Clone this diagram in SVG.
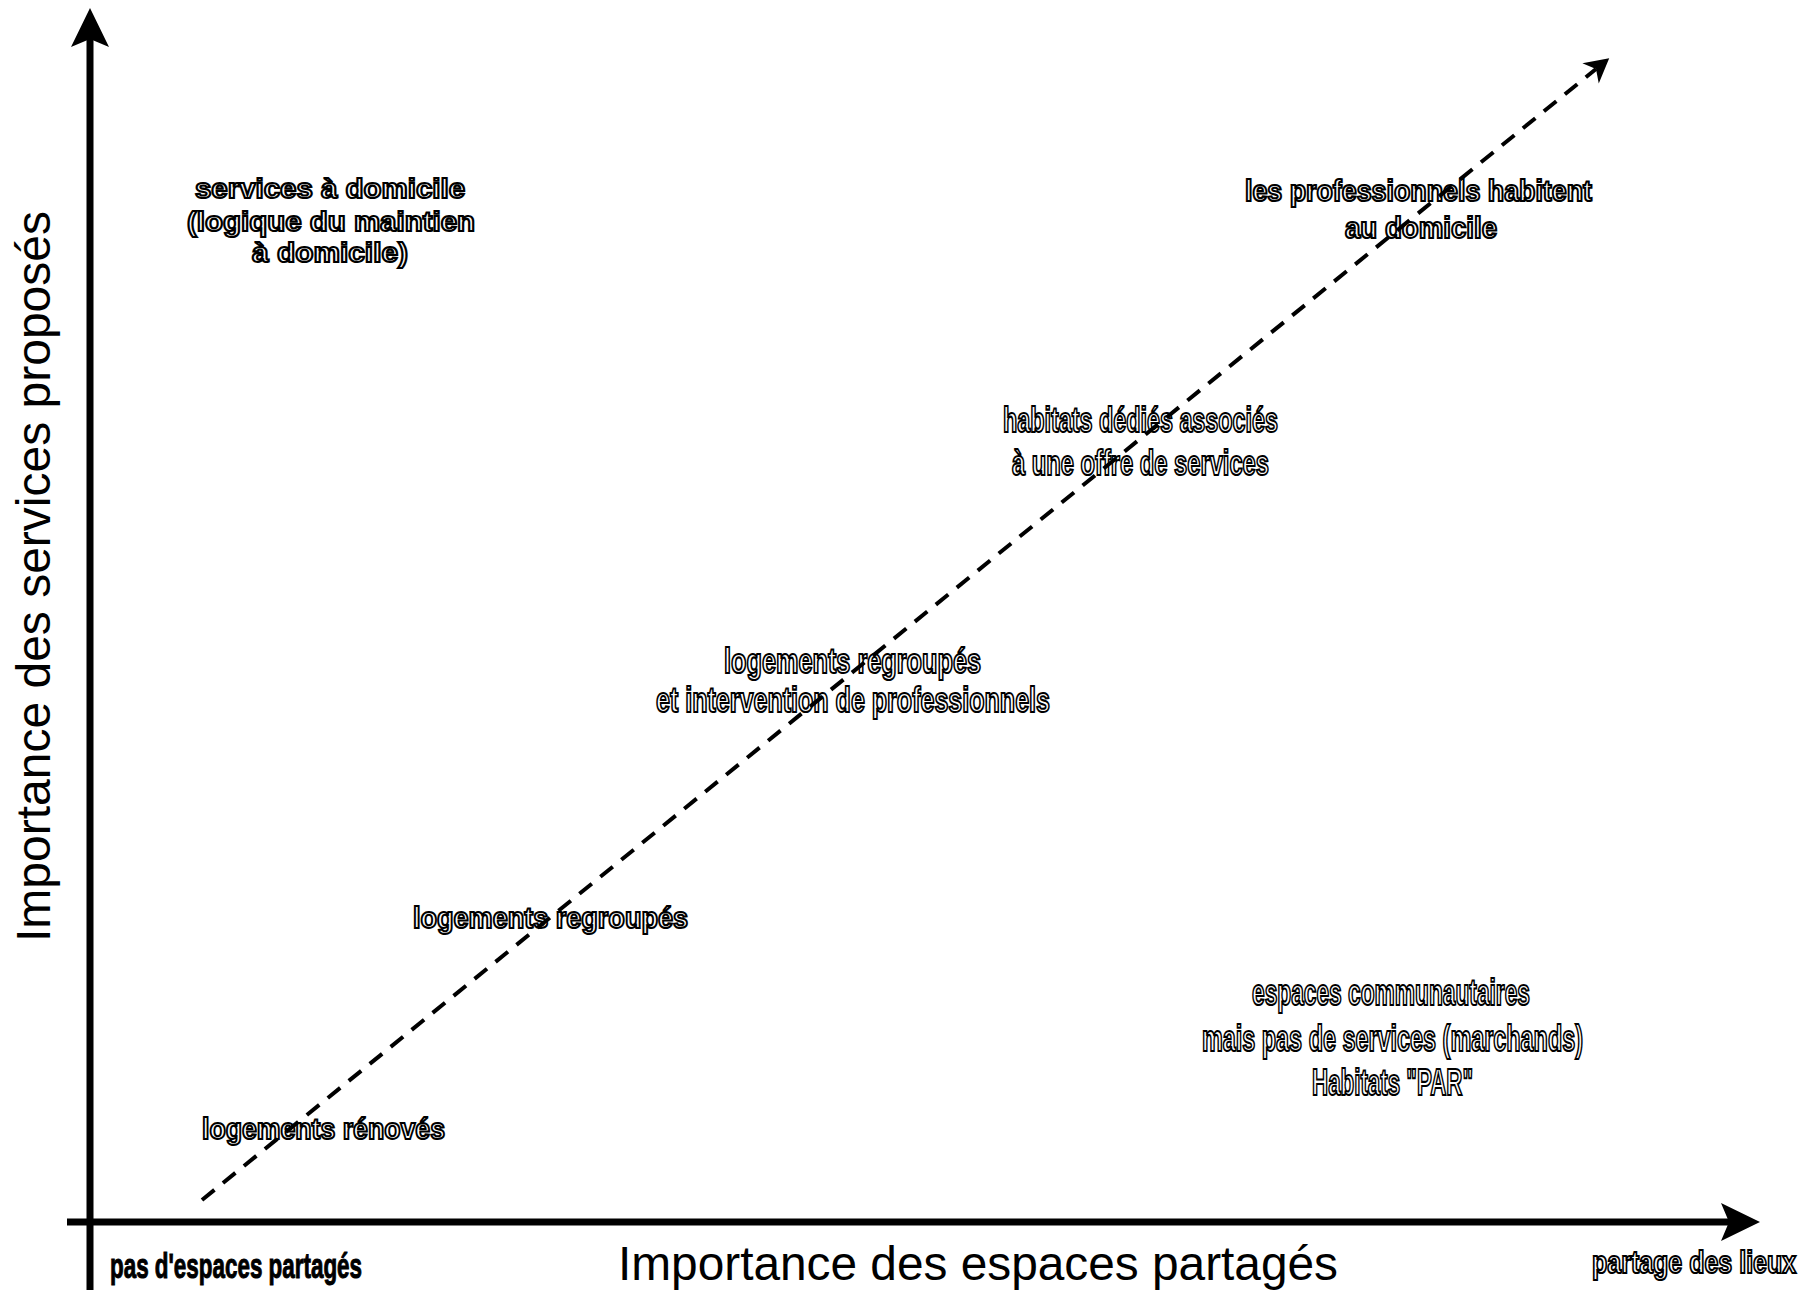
<svg xmlns="http://www.w3.org/2000/svg" width="1808" height="1290" viewBox="0 0 1808 1290">
<style>
  .ol { font-family: "Liberation Sans", Arial, sans-serif; font-weight: bold; fill: #fff; stroke: #000; stroke-width: 2.1; }
  .solid { font-family: "Liberation Sans", Arial, sans-serif; font-weight: bold; fill: #000; stroke: #000; stroke-width: 1; }
  .axis-title { font-family: "Liberation Sans", Arial, sans-serif; fill: #000; font-size: 48px; }
  .axis { stroke: #000; stroke-width: 7; fill: none; }
  .diag { stroke: #000; stroke-width: 4; fill: none; stroke-dasharray: 16 11; }
</style>
<defs>
  <marker id="axisHead" markerUnits="userSpaceOnUse" viewBox="-40 -20 41 40" markerWidth="41" markerHeight="40" refX="-31" refY="0" orient="auto">
    <path d="M0,0 L-39,-19 L-31,0 L-39,19 Z" fill="#000"/>
  </marker>
  <marker id="diagHead" markerUnits="userSpaceOnUse" viewBox="-25 -14 26 28" markerWidth="26" markerHeight="28" refX="-17" refY="0" orient="auto">
    <path d="M0,0 L-24,-13 L-17,0 L-24,13 Z" fill="#000"/>
  </marker>
</defs>
<rect width="1808" height="1290" fill="#fff"/>

<g id="node-services-domicile">
  <text class="ol" font-size="28" x="195" y="198" textLength="270" lengthAdjust="spacingAndGlyphs">services à domicile</text>
  <text class="ol" font-size="28" x="187" y="231" textLength="288" lengthAdjust="spacingAndGlyphs">(logique du maintien</text>
  <text class="ol" font-size="28" x="252" y="262" textLength="156" lengthAdjust="spacingAndGlyphs">à domicile)</text>
</g>
<g id="node-professionnels-habitent">
  <text class="ol" font-size="29" x="1245" y="201" textLength="347" lengthAdjust="spacingAndGlyphs">les professionnels habitent</text>
  <text class="ol" font-size="29" x="1345" y="238" textLength="152" lengthAdjust="spacingAndGlyphs">au domicile</text>
</g>
<g id="node-habitats-dedies">
  <text class="ol" font-size="35" x="1003" y="432" textLength="275" lengthAdjust="spacingAndGlyphs">habitats dédiés associés</text>
  <text class="ol" font-size="35" x="1012" y="475" textLength="257" lengthAdjust="spacingAndGlyphs">à une offre de services</text>
</g>
<g id="node-logements-intervention">
  <text class="ol" font-size="35" x="724" y="673" textLength="257" lengthAdjust="spacingAndGlyphs">logements regroupés</text>
  <text class="ol" font-size="35" x="656" y="712" textLength="394" lengthAdjust="spacingAndGlyphs">et intervention de professionnels</text>
</g>
<g id="node-logements-regroupes">
  <text class="ol" font-size="30" x="413" y="928" textLength="275" lengthAdjust="spacingAndGlyphs">logements regroupés</text>
</g>
<g id="node-logements-renoves">
  <text class="ol" font-size="30" x="202" y="1139" textLength="243" lengthAdjust="spacingAndGlyphs">logements rénovés</text>
</g>
<g id="node-espaces-communautaires">
  <text class="ol" font-size="36" x="1252" y="1005" textLength="278" lengthAdjust="spacingAndGlyphs">espaces communautaires</text>
  <text class="ol" font-size="36" x="1202" y="1051" textLength="381" lengthAdjust="spacingAndGlyphs">mais pas de services (marchands)</text>
  <text class="ol" font-size="36" x="1312" y="1095" textLength="161" lengthAdjust="spacingAndGlyphs">Habitats "PAR"</text>
</g>
<g id="label-pas-espaces">
  <text class="solid" font-size="35" x="110" y="1278" textLength="252" lengthAdjust="spacingAndGlyphs">pas d'espaces partagés</text>
</g>
<g id="label-partage-lieux">
  <text class="ol" font-size="32" transform="translate(1592,1273) scale(0.781,1)" x="0" y="0">partage des lieux</text>
</g>
<g id="label-x-axis">
  <text class="axis-title" x="618" y="1280" textLength="720" lengthAdjust="spacingAndGlyphs">Importance des espaces partagés</text>
</g>
<g id="label-y-axis">
  <text class="axis-title" transform="translate(50,942) rotate(-90)" x="0" y="0" textLength="731" lengthAdjust="spacingAndGlyphs">Importance des services proposés</text>
</g>

<g id="connectors">
  <line class="axis" x1="90" y1="1290" x2="90" y2="39" marker-end="url(#axisHead)"/>
  <line class="axis" x1="67" y1="1222" x2="1729" y2="1222" marker-end="url(#axisHead)"/>
  <line class="diag" x1="202" y1="1200" x2="1596" y2="69" marker-end="url(#diagHead)"/>
</g>
</svg>
